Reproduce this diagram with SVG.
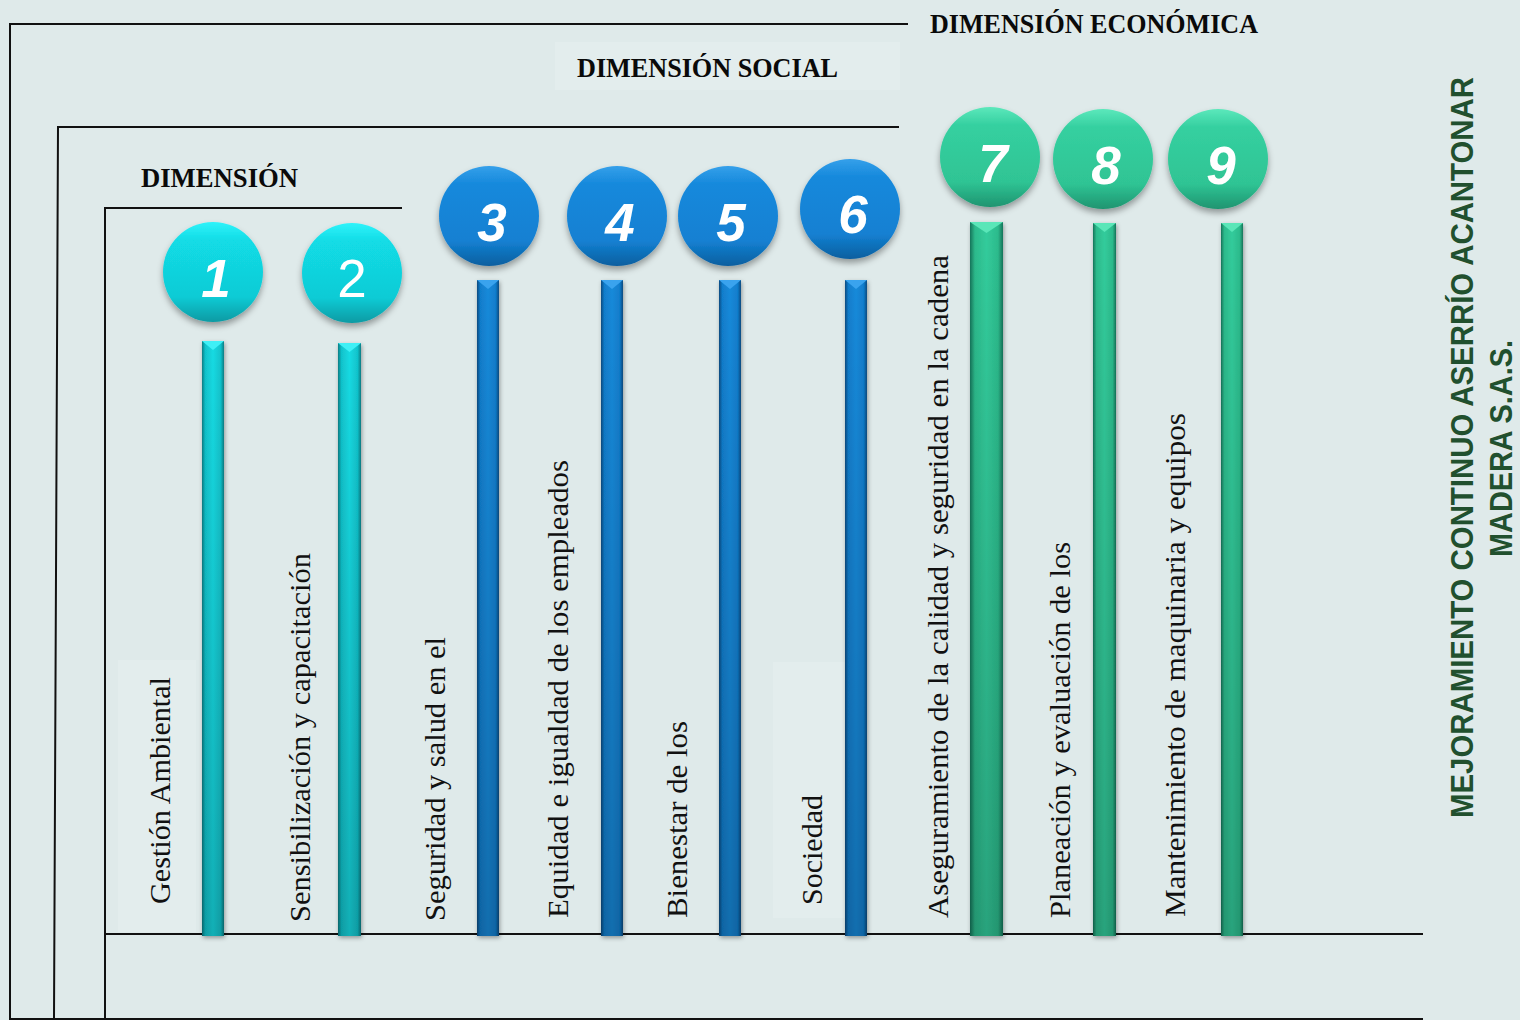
<svg xmlns="http://www.w3.org/2000/svg" width="1520" height="1020" viewBox="0 0 1520 1020">
<style>
.frame{stroke:#111;stroke-width:2;fill:none}
.dim{font-family:"Liberation Serif","Times New Roman",serif;font-weight:bold;font-size:28px;fill:#0a0a0a}
.lbl{font-family:"Liberation Serif","Times New Roman",serif;font-size:30px;fill:#111}
.num{font-family:"Liberation Sans",Arial,sans-serif;font-weight:bold;font-style:italic;font-size:53px;fill:#fff;text-anchor:middle}
.num2{font-family:"Liberation Sans",Arial,sans-serif;font-size:53px;fill:#fff;text-anchor:middle}
.title{font-family:"Liberation Sans",Arial,sans-serif;font-weight:bold;font-size:32px;fill:#21502e}
.box{fill:#e3eded}
</style>
<defs>
<linearGradient id="ballC" x1="0" y1="0" x2="0" y2="1">
<stop offset="0" stop-color="#2ff3fa"/><stop offset="0.18" stop-color="#12dce6"/><stop offset="0.75" stop-color="#10cbd5"/><stop offset="1" stop-color="#0a9aa3"/>
</linearGradient>
<linearGradient id="ballB" x1="0" y1="0" x2="0" y2="1">
<stop offset="0" stop-color="#35a0ea"/><stop offset="0.18" stop-color="#1689dc"/><stop offset="0.75" stop-color="#1380d2"/><stop offset="1" stop-color="#0c5f9f"/>
</linearGradient>
<linearGradient id="ballG" x1="0" y1="0" x2="0" y2="1">
<stop offset="0" stop-color="#5ce8bb"/><stop offset="0.18" stop-color="#35d0a0"/><stop offset="0.75" stop-color="#2fc494"/><stop offset="1" stop-color="#1f9470"/>
</linearGradient>
<linearGradient id="barC" x1="0" y1="0" x2="1" y2="0">
<stop offset="0" stop-color="#087d84"/><stop offset="0.15" stop-color="#11c3cc"/><stop offset="0.5" stop-color="#16dbe3"/><stop offset="0.85" stop-color="#11c3cc"/><stop offset="1" stop-color="#087d84"/>
</linearGradient>
<linearGradient id="barB" x1="0" y1="0" x2="1" y2="0">
<stop offset="0" stop-color="#084a80"/><stop offset="0.15" stop-color="#117dcc"/><stop offset="0.5" stop-color="#168ada"/><stop offset="0.85" stop-color="#117dcc"/><stop offset="1" stop-color="#084a80"/>
</linearGradient>
<linearGradient id="barG" x1="0" y1="0" x2="1" y2="0">
<stop offset="0" stop-color="#16745a"/><stop offset="0.15" stop-color="#2cbb8c"/><stop offset="0.5" stop-color="#33cc9c"/><stop offset="0.85" stop-color="#2cbb8c"/><stop offset="1" stop-color="#16745a"/>
</linearGradient>
<linearGradient id="shade" x1="0" y1="0" x2="0" y2="1">
<stop offset="0" stop-color="#000" stop-opacity="0"/><stop offset="1" stop-color="#000" stop-opacity="0.2"/>
</linearGradient>
<filter id="sh" x="-30%" y="-30%" width="160%" height="170%">
<feDropShadow dx="0" dy="4" stdDeviation="3" flood-color="#000" flood-opacity="0.35"/>
</filter>
<filter id="shb" x="-50%" y="-5%" width="200%" height="110%">
<feDropShadow dx="1" dy="2" stdDeviation="2" flood-color="#000" flood-opacity="0.35"/>
</filter>
</defs>
<rect width="1520" height="1020" fill="#dfeaea"/>
<rect class="box" x="118" y="660" width="78" height="272"/>
<rect class="box" x="773" y="662" width="72" height="256" fill="#e8f0f0"/>
<rect class="box" x="555" y="42" width="345" height="48" fill="#e1ecec"/>

<g id="connectors">
<polyline class="frame" points="908,24 10,24 10,1020"/>
<polyline class="frame" points="899,127 58,127 54,1020"/>
<polyline class="frame" points="402,208 105,208 105,1020"/>
<line class="frame" x1="105" y1="934" x2="1423" y2="934"/>
<line class="frame" x1="10" y1="1019" x2="1423" y2="1019"/>
</g>

<g id="headers">
<text id="dim-economica" class="dim" x="930" y="33" textLength="328" lengthAdjust="spacingAndGlyphs">DIMENSIÓN ECONÓMICA</text>
<text id="dim-social" class="dim" x="577" y="77" textLength="261" lengthAdjust="spacingAndGlyphs">DIMENSIÓN SOCIAL</text>
<text id="dim-ambiental" class="dim" x="141" y="187" textLength="157" lengthAdjust="spacingAndGlyphs">DIMENSIÓN</text>
</g>

<g id="node1">
<g filter="url(#shb)"><rect x="202" y="341" width="22" height="595" fill="url(#barC)"/></g>
<rect x="202" y="341" width="22" height="595" fill="url(#shade)"/>
<polygon points="202,341 224,341 213,350" fill="#3ff0f6"/>
<circle cx="213" cy="272" r="50" fill="url(#ballC)" filter="url(#sh)"/>
<text class="num" x="216" y="297">1</text>
<text class="lbl" transform="translate(170,904) rotate(-90)" textLength="227" lengthAdjust="spacingAndGlyphs">Gestión Ambiental</text>
</g>
<g id="node2">
<g filter="url(#shb)"><rect x="338" y="343" width="23" height="593" fill="url(#barC)"/></g>
<rect x="338" y="343" width="23" height="593" fill="url(#shade)"/>
<polygon points="338,343 361,343 349.5,352" fill="#3ff0f6"/>
<circle cx="352" cy="273" r="50" fill="url(#ballC)" filter="url(#sh)"/>
<text class="num2" x="352" y="297">2</text>
<text class="lbl" transform="translate(310,922) rotate(-90)" textLength="369" lengthAdjust="spacingAndGlyphs">Sensibilización y capacitación</text>
</g>
<g id="node3">
<g filter="url(#shb)"><rect x="477" y="280" width="22" height="656" fill="url(#barB)"/></g>
<rect x="477" y="280" width="22" height="656" fill="url(#shade)"/>
<polygon points="477,280 499,280 488,289" fill="#3aa3ee"/>
<circle cx="489" cy="216" r="50" fill="url(#ballB)" filter="url(#sh)"/>
<text class="num" x="492" y="241">3</text>
<text class="lbl" transform="translate(445,921) rotate(-90)" textLength="284" lengthAdjust="spacingAndGlyphs">Seguridad y salud en el</text>
</g>
<g id="node4">
<g filter="url(#shb)"><rect x="601" y="280" width="22" height="656" fill="url(#barB)"/></g>
<rect x="601" y="280" width="22" height="656" fill="url(#shade)"/>
<polygon points="601,280 623,280 612,289" fill="#3aa3ee"/>
<circle cx="617" cy="216" r="50" fill="url(#ballB)" filter="url(#sh)"/>
<text class="num" x="620" y="241">4</text>
<text class="lbl" transform="translate(568,918) rotate(-90)" textLength="458" lengthAdjust="spacingAndGlyphs">Equidad e igualdad de los empleados</text>
</g>
<g id="node5">
<g filter="url(#shb)"><rect x="719" y="280" width="22" height="656" fill="url(#barB)"/></g>
<rect x="719" y="280" width="22" height="656" fill="url(#shade)"/>
<polygon points="719,280 741,280 730,289" fill="#3aa3ee"/>
<circle cx="728" cy="216" r="50" fill="url(#ballB)" filter="url(#sh)"/>
<text class="num" x="731" y="241">5</text>
<text class="lbl" transform="translate(687,918) rotate(-90)" textLength="197" lengthAdjust="spacingAndGlyphs">Bienestar de los</text>
</g>
<g id="node6">
<g filter="url(#shb)"><rect x="845" y="280" width="22" height="656" fill="url(#barB)"/></g>
<rect x="845" y="280" width="22" height="656" fill="url(#shade)"/>
<polygon points="845,280 867,280 856,289" fill="#3aa3ee"/>
<circle cx="850" cy="209" r="50" fill="url(#ballB)" filter="url(#sh)"/>
<text class="num" x="853" y="233">6</text>
<text class="lbl" transform="translate(822,905) rotate(-90)" textLength="110" lengthAdjust="spacingAndGlyphs">Sociedad</text>
</g>
<g id="node7">
<g filter="url(#shb)"><rect x="970" y="222" width="33" height="714" fill="url(#barG)"/></g>
<rect x="970" y="222" width="33" height="714" fill="url(#shade)"/>
<polygon points="970,222 1003,222 986.5,233" fill="#5ae6b8"/>
<circle cx="990" cy="157" r="50" fill="url(#ballG)" filter="url(#sh)"/>
<text class="num" x="993" y="182">7</text>
<text class="lbl" transform="translate(948,918) rotate(-90)" textLength="663" lengthAdjust="spacingAndGlyphs">Aseguramiento de la calidad y seguridad en la cadena</text>
</g>
<g id="node8">
<g filter="url(#shb)"><rect x="1093" y="223" width="23" height="713" fill="url(#barG)"/></g>
<rect x="1093" y="223" width="23" height="713" fill="url(#shade)"/>
<polygon points="1093,223 1116,223 1104.5,232" fill="#5ae6b8"/>
<circle cx="1103" cy="159" r="50" fill="url(#ballG)" filter="url(#sh)"/>
<text class="num" x="1106" y="184">8</text>
<text class="lbl" transform="translate(1070,918) rotate(-90)" textLength="376" lengthAdjust="spacingAndGlyphs">Planeación y evaluación de los</text>
</g>
<g id="node9">
<g filter="url(#shb)"><rect x="1221" y="223" width="22" height="713" fill="url(#barG)"/></g>
<rect x="1221" y="223" width="22" height="713" fill="url(#shade)"/>
<polygon points="1221,223 1243,223 1232,232" fill="#5ae6b8"/>
<circle cx="1218" cy="159" r="50" fill="url(#ballG)" filter="url(#sh)"/>
<text class="num" x="1221" y="184">9</text>
<text class="lbl" transform="translate(1185,917) rotate(-90)" textLength="504" lengthAdjust="spacingAndGlyphs">Mantenimiento de maquinaria y equipos</text>
</g>

<g id="title">
<text class="title" transform="translate(1473,818) rotate(-90)" textLength="741" lengthAdjust="spacingAndGlyphs">MEJORAMIENTO CONTINUO ASERRÍO ACANTONAR</text>
<text class="title" transform="translate(1512,557) rotate(-90)" textLength="217" lengthAdjust="spacingAndGlyphs">MADERA S.A.S.</text>
</g>
</svg>
